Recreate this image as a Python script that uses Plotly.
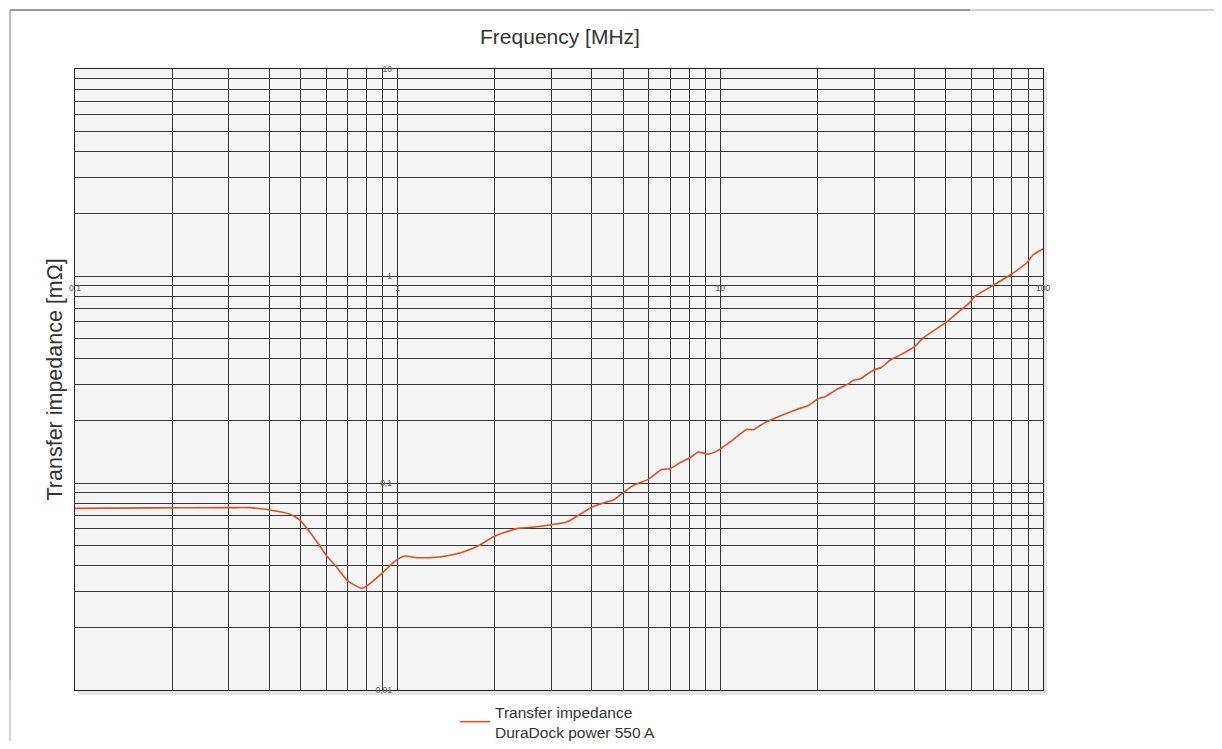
"""Transfer impedance of the DuraDock power 550 A versus frequency."""
from __future__ import annotations

import plotly.graph_objects as go

# values
frequency_mhz = [
    0.1, 0.1708, 0.3022, 0.3485, 0.4021, 0.4638, 0.4979, 0.5347, 0.5743, 0.6026,
    0.6471, 0.7015, 0.7735, 0.7920, 0.8385, 0.9003, 0.9929, 1.0534, 1.1452, 1.2592,
    1.4184, 1.5938, 1.7739, 2.0019, 2.3377, 2.6961, 3.0006, 3.3404, 3.6717, 4.0296,
    4.2877, 4.6580, 5.0014, 5.3728, 5.9786, 6.5782, 6.9788, 7.4933, 8.0465, 8.5405,
    9.1728, 9.7386, 10.707, 12.06, 12.65, 13.43, 15.12, 17.24, 18.73, 20.11,
    21.09, 22.94, 24.92, 25.82, 27.08, 29.78, 31.61, 33.55, 36.04, 40.09,
    42.54, 50.27, 55.27, 59.36, 61.52, 70.11, 79.92, 88.96, 93.26, 100.0,
]
impedance_mohm = [
    0.0754, 0.0758, 0.0760, 0.0760, 0.0740, 0.0706, 0.0662, 0.0578, 0.0496, 0.0444,
    0.0392, 0.0336, 0.0310, 0.0314, 0.0336, 0.0370, 0.0425, 0.0444, 0.0436, 0.0436,
    0.0444, 0.0464, 0.0496, 0.0554, 0.0602, 0.0615, 0.0629, 0.0648, 0.0706, 0.0769,
    0.0797, 0.0827, 0.0898, 0.0974, 0.1041, 0.1163, 0.1172, 0.1253, 0.1324, 0.1409,
    0.1378, 0.1425, 0.1575, 0.1814, 0.1810, 0.1917, 0.2088, 0.2265, 0.2367, 0.2551,
    0.2608, 0.2828, 0.3013, 0.3135, 0.3184, 0.3504, 0.3623, 0.3916, 0.4148, 0.4575,
    0.5022, 0.5999, 0.6803, 0.7458, 0.7971, 0.9010, 1.0224, 1.1552, 1.2667, 1.3495,
]
series_name = "Transfer impedance<br>DuraDock power 550 A"

x_grid = [m * 10.0 ** e for e in (-1, 0, 1) for m in range(1, 10)] + [100]
y_grid = [m * 10.0 ** e for e in (-2, -1, 0) for m in range(1, 10)] + [10]
x_label_vals = [0.1, 1, 10, 100]
x_label_text = ["0,1", "1", "10", "100"]
y_label_vals = [0.01, 0.1, 1, 10]
y_label_text = ["0,01", "0,1", "1", "10"]

# the page body has an 8 px margin, so the figure is placed from (8, 8)
OFF = 8
W, H = 1222 - 2 * OFF, 749 - 2 * OFF
L, R, T, B = 75 - OFF, 179 - OFF, 69 - OFF, 59 - OFF
FONT = "Liberation Sans, Arial, sans-serif"
GRID = "#363636"
LINE = "#dd4f25"


def px_x(p):
    """Page pixel column -> paper x."""
    return (p - OFF - L) / (W - L - R)


def px_y(p):
    """Page pixel row -> paper y."""
    return (H - B - (p - OFF)) / (H - T - B)


def main() -> None:
    fig = go.Figure()

    fig.add_trace(
        go.Scatter(
            x=frequency_mhz,
            y=impedance_mohm,
            mode="lines",
            name=series_name,
            line=dict(color=LINE, width=1.6, shape="spline", smoothing=0.6),
            hoverinfo="x+y",
        )
    )
    # invisible copy so the inner label axes are drawn
    fig.add_trace(
        go.Scatter(
            x=frequency_mhz,
            y=impedance_mohm,
            xaxis="x2",
            yaxis="y2",
            mode="lines",
            line=dict(color="rgba(0,0,0,0)"),
            showlegend=False,
            hoverinfo="skip",
        )
    )

    axis_common = dict(
        type="log",
        showticklabels=False,
        ticks="",
        showgrid=True,
        gridcolor=GRID,
        gridwidth=1,
        showline=True,
        linecolor="#222",
        linewidth=1,
        mirror=True,
        zeroline=False,
    )
    label_common = dict(
        type="log",
        showgrid=False,
        showline=False,
        zeroline=False,
        ticks="outside",
        ticklen=4,
        tickcolor="rgba(0,0,0,0)",
        tickfont=dict(family=FONT, size=8.5, color="#555"),
        anchor="free",
    )

    fig.update_layout(
        width=W,
        height=H,
        margin=dict(l=L, r=R, t=T, b=B, autoexpand=False),
        paper_bgcolor="white",
        plot_bgcolor="rgba(0,0,0,0)",
        font=dict(family=FONT, color="#333"),
        title=dict(
            text="Frequency [MHz]",
            x=(560 - OFF) / W,
            xanchor="center",
            y=1 - (37 - OFF) / H,
            yanchor="middle",
            font=dict(family=FONT, size=21, color="#333"),
        ),
        xaxis=dict(axis_common, range=[-1, 2], tickvals=x_grid),
        yaxis=dict(axis_common, range=[-2, 1], tickvals=y_grid),
        xaxis2=dict(
            label_common,
            overlaying="x",
            side="bottom",
            position=2 / 3,
            range=[-1, 2],
            tickvals=x_label_vals,
            ticktext=x_label_text,
        ),
        yaxis2=dict(
            label_common,
            overlaying="y",
            side="left",
            position=1 / 3,
            range=[-2, 1],
            tickvals=y_label_vals,
            ticktext=y_label_text,
        ),
        showlegend=True,
        legend=dict(
            x=px_x(455),
            y=px_y(695),
            xanchor="left",
            yanchor="top",
            bgcolor="rgba(0,0,0,0)",
            font=dict(family=FONT, size=15.5, color="#333"),
            itemwidth=30,
            valign="middle",
        ),
        annotations=[
            dict(
                text="Transfer impedance [mΩ]",
                xref="paper",
                yref="paper",
                x=px_x(40),
                y=0.5,
                textangle=-90,
                showarrow=False,
                font=dict(family=FONT, size=21.5, color="#333"),
            )
        ],
        shapes=[
            # soft shadow, then the plot background on top of it
            dict(type="rect", xref="paper", yref="paper", layer="below",
                 x0=px_x(78), x1=px_x(1047), y0=px_y(695), y1=px_y(72),
                 line=dict(width=0), fillcolor="#e4e4e4"),
            dict(type="rect", xref="paper", yref="paper", layer="below",
                 x0=0, x1=1, y0=0, y1=1,
                 line=dict(width=0), fillcolor="#f5f5f5"),
            # page frame
            dict(type="line", xref="paper", yref="paper",
                 x0=px_x(10), x1=px_x(970), y0=px_y(10), y1=px_y(10),
                 line=dict(color="#9a9a9a", width=2)),
            dict(type="line", xref="paper", yref="paper",
                 x0=px_x(970), x1=px_x(1222), y0=px_y(10), y1=px_y(10),
                 line=dict(color="#d0d0d0", width=2)),
            dict(type="line", xref="paper", yref="paper",
                 x0=px_x(10), x1=px_x(10), y0=px_y(10), y1=px_y(680),
                 line=dict(color="#a5a9ad", width=1.5)),
            dict(type="line", xref="paper", yref="paper",
                 x0=px_x(10), x1=px_x(10), y0=px_y(680), y1=px_y(749),
                 line=dict(color="#c8c8c8", width=1.5)),
        ],
    )

    fig.write_html("out.html")


if __name__ == "__main__":
    main()
